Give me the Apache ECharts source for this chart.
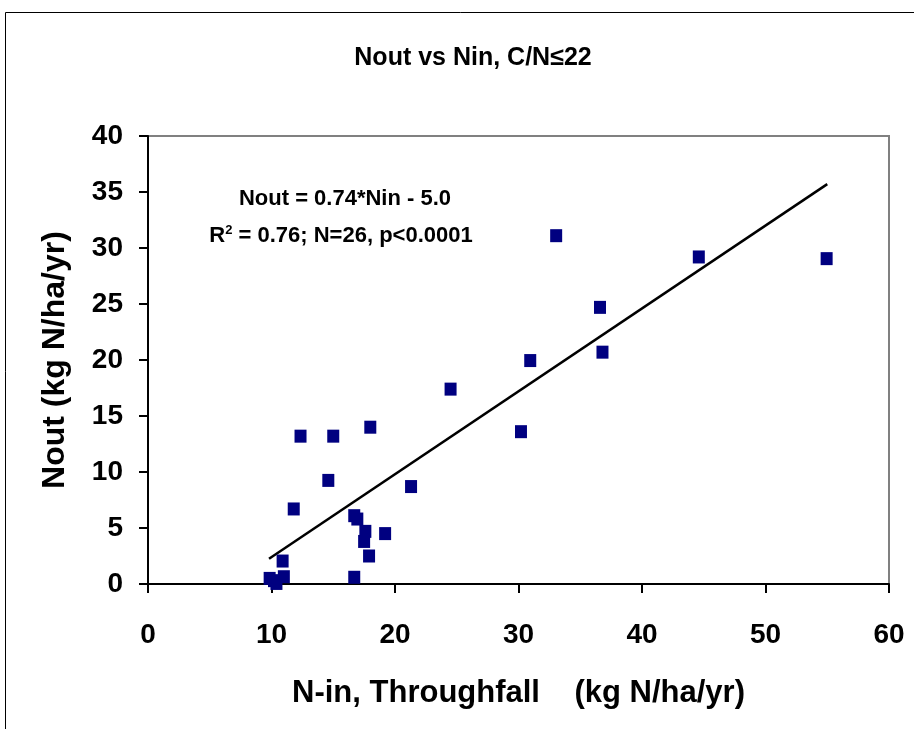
<!DOCTYPE html>
<html><head><meta charset="utf-8">
<script src="https://cdn.jsdelivr.net/npm/echarts@6/dist/echarts.min.js"></script>
<style>html,body{margin:0;padding:0;background:#fff}#c{width:914px;height:729px}</style>
</head><body><div id="c"></div>
<script>
const titleText = 'Nout vs Nin, C/N\u226422';
const xAxisName = 'N-in, Throughfall    (kg N/ha/yr)';
const yAxisName = 'Nout (kg N/ha/yr)';
const nin  = [33.05, 44.6, 54.95, 36.6, 36.8, 30.95, 24.5, 30.2, 18.0, 12.35, 15.0, 14.6, 21.3, 11.8, 16.7, 16.95, 17.6, 17.5, 19.2, 17.9, 10.9, 16.7, 9.85, 11.0, 10.4, 10.2];
const nout = [31.1, 29.2, 29.05, 24.7, 20.7, 19.95, 17.4, 13.6, 14.0, 13.2, 13.2, 9.25, 8.7, 6.7, 6.1, 5.8, 4.7, 3.8, 4.5, 2.5, 2.05, 0.6, 0.5, 0.65, 0.05, 0.3];
const slope = 0.74, intercept = -5.0;
const trendX = [9.8, 55];
const xTicks = [0, 10, 20, 30, 40, 50, 60];
const yTicks = [0, 5, 10, 15, 20, 25, 30, 35, 40];

const pts = nin.map((x, i) => [x, nout[i]]);
const trend = trendX.map(x => [x, slope * x + intercept]);
const F = 'Arial, "Liberation Sans", sans-serif';
const chart = echarts.init(document.getElementById('c'));
chart.setOption({
  animation: false,
  backgroundColor: '#fff',
  title: { text: titleText, left: 468, top: 41, textAlign: 'center',
    textStyle: { fontFamily: F, fontWeight: 'bold', fontSize: 25, color: '#000' } },
  graphic: [
    { type: 'rect', shape: { x: 5.5, y: 12.5, width: 1000, height: 1000 },
      style: { fill: 'none', stroke: '#000', lineWidth: 1 }, z: -10 },
    { type: 'rect', shape: { x: 148, y: 136, width: 741, height: 448 },
      style: { fill: 'none', stroke: '#808080', lineWidth: 2 }, z: -5 },
    { type: 'text', x: 345, y: 199, style: { text: 'Nout = 0.74*Nin - 5.0', align: 'center', verticalAlign: 'middle',
      font: 'bold 22px ' + F, fill: '#000' } },
    { type: 'text', x: 341, y: 236, style: { text: '{a|R}{s|2}{a| = 0.76; N=26, p<0.0001}', align: 'center', verticalAlign: 'middle',
      rich: { a: { fontFamily: F, fontWeight: 'bold', fontSize: 22, color: '#000' },
              s: { fontFamily: F, fontWeight: 'bold', fontSize: 13, color: '#000', verticalAlign: 'top', padding: [0,0,12,0] } } } }
  ],
  grid: { left: 148, right: 25, top: 136, bottom: 145, containLabel: false },
  xAxis: { type: 'value', min: 0, max: 60, interval: 10,
    name: xAxisName, nameLocation: 'middle', nameGap: 94,
    nameTextStyle: { fontFamily: F, fontWeight: 'bold', fontSize: 31, color: '#000' },
    axisLine: { onZero: false, lineStyle: { color: '#000', width: 2 } },
    axisTick: { show: true, length: 9, lineStyle: { color: '#000', width: 2 } },
    axisLabel: { margin: 37, fontFamily: F, fontWeight: 'bold', fontSize: 28, color: '#000',
      formatter: v => xTicks.includes(v) ? String(v) : '' },
    splitLine: { show: false } },
  yAxis: { type: 'value', min: 0, max: 40, interval: 5,
    name: yAxisName, nameLocation: 'middle', nameGap: 77,
    nameTextStyle: { fontFamily: F, fontWeight: 'bold', fontSize: 32, color: '#000' },
    axisLine: { show: true, onZero: false, lineStyle: { color: '#000', width: 2 } },
    axisTick: { show: true, length: 9, lineStyle: { color: '#000', width: 2 } },
    axisLabel: { margin: 25, fontFamily: F, fontWeight: 'bold', fontSize: 28, color: '#000',
      formatter: v => yTicks.includes(v) ? String(v) : '' },
    splitLine: { show: false } },
  series: [
    { type: 'line', data: trend, symbol: 'none', lineStyle: { color: '#000', width: 2.5 }, z: 2 },
    { type: 'scatter', data: pts, symbol: 'rect', symbolSize: [12, 13], itemStyle: { color: '#000080', opacity: 1 }, z: 3 }
  ]
});
</script></body></html>
